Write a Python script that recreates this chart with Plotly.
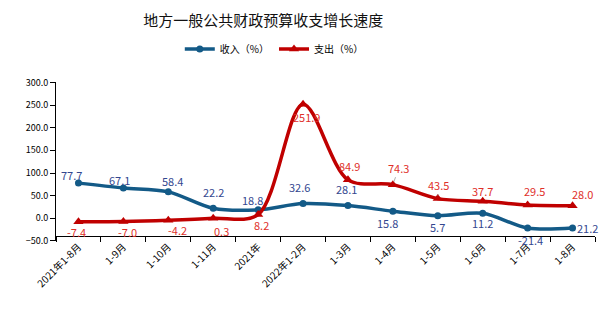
import plotly.graph_objects as go

categories = ["2021年1-8月", "1-9月", "1-10月", "1-11月", "2021年", "2022年1-2月",
              "1-3月", "1-4月", "1-5月", "1-6月", "1-7月", "1-8月"]
income = [77.7, 67.1, 58.4, 22.2, 18.8, 32.6, 28.1, 15.8, 5.7, 11.2, -21.4, -21.2]
expense = [-7.4, -7.0, -4.2, 0.3, 8.2, 251.9, 84.9, 74.3, 43.5, 37.7, 29.5, 28.0]
income_labels = ["77.7", "67.1", "58.4", "22.2", "18.8", "32.6", "28.1", "15.8", "5.7", "11.2", "-21.4", "21.2"]
expense_labels = ["-7.4", "-7.0", "-4.2", "0.3", "8.2", "251.9", "84.9", "74.3", "43.5", "37.7", "29.5", "28.0"]
y_ticks = [-50, 0, 50, 100, 150, 200, 250, 300]

# label offsets (px) - styling only
inc_off = [(-7, 8), (-4, 8), (4, 11), (0, 16), (-6, 10), (-4, 17), (-1, 17),
           (-5, -12), (0, -11), (0, -10), (3, -12), (15, 0)]
exp_off = [(-2, -10), (4, -10), (9, -10), (8, -13), (3, -10), (3, -13), (2, 14),
           (6, 17), (1, 14), (0, 10), (7, 14), (10, 12)]
leaders = {7, 8}

BLUE = "#135A87"
RED = "#C00000"
BLUE_TXT = "#33478F"
RED_TXT = "#E0302A"
FONT = "Noto Sans CJK SC"

fig = go.Figure()
fig.add_trace(go.Scatter(
    x=categories, y=income, name="收入（%）", mode="lines+markers",
    line=dict(color=BLUE, width=3.5, shape="spline", smoothing=0.9),
    marker=dict(symbol="circle", size=7, color=BLUE)))
fig.add_trace(go.Scatter(
    x=categories, y=expense, name="支出（%）", mode="lines+markers",
    line=dict(color=RED, width=3.5, shape="spline", smoothing=0.9),
    marker=dict(symbol="triangle-up", size=9, color=RED)))

for i, c in enumerate(categories):
    dx, dy = inc_off[i]
    fig.add_annotation(x=c, y=income[i], text=income_labels[i], showarrow=False,
                       xshift=dx, yshift=dy, font=dict(family=FONT, size=11, color=BLUE_TXT))
    dx, dy = exp_off[i]
    if i in leaders:
        fig.add_annotation(x=c, y=expense[i], text=expense_labels[i], showarrow=True,
                           arrowhead=0, arrowwidth=0.8, arrowcolor="#999999",
                           ax=dx, ay=-dy, standoff=3,
                           font=dict(family=FONT, size=11, color=RED_TXT))
    else:
        fig.add_annotation(x=c, y=expense[i], text=expense_labels[i], showarrow=False,
                           xshift=dx, yshift=dy, font=dict(family=FONT, size=11, color=RED_TXT))

fig.update_layout(
    width=615, height=321,
    margin=dict(l=56, r=20, t=75, b=80),
    paper_bgcolor="white", plot_bgcolor="white",
    font=dict(family=FONT, size=10, color="black"),
    title=dict(text="地方一般公共财政预算收支增长速度", x=0.428, xanchor="center",
               y=1 - 21 / 321, yanchor="middle",
               font=dict(family=FONT, size=15, color="#111111")),
    legend=dict(orientation="h", x=0.405, xanchor="center", y=1 - 49 / 321, yanchor="middle",
                yref="container", font=dict(family=FONT, size=10),
                itemwidth=30, tracegroupgap=0, bgcolor="rgba(0,0,0,0)"),
    showlegend=True,
)
fig.update_xaxes(
    type="category", range=[-0.5, 11.5], showgrid=False, showline=True,
    linecolor="black", linewidth=1, ticks="outside", ticklen=5, tickcolor="black",
    tickson="boundaries", tickangle=-45, anchor="free", position=0.03,
    tickfont=dict(family=FONT, size=10, color="black"))
fig.update_yaxes(
    range=[-50, 300], tickvals=y_ticks, tickformat=".1f", showgrid=False,
    zeroline=False, showline=True, linecolor="black", linewidth=1,
    ticks="outside", ticklen=5, tickcolor="black",
    tickfont=dict(family=FONT, size=9, color="black"))

fig.write_html("out.html")
